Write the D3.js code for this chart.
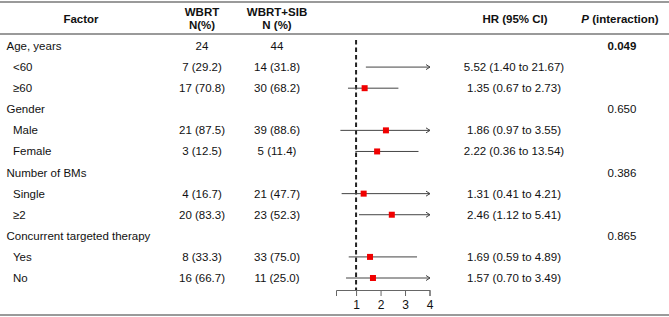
<!DOCTYPE html>
<html>
<head>
<meta charset="utf-8">
<script src="https://cdn.jsdelivr.net/npm/d3@7"></script>
<style>
  body { margin: 0; background: #fff; }
  svg text { font-family: "Liberation Sans", Arial, Helvetica, sans-serif; font-size: 11.5px; fill: #111; }
</style>
</head>
<body>
<div id="chart"></div>
<script>
// Table rows
const factors = ["Age, years", "<60", "≥60", "Gender", "Male", "Female",
  "Number of BMs", "Single", "≥2", "Concurrent targeted therapy", "Yes", "No"];
const isSubgroup = [false, true, true, false, true, true, false, true, true, false, true, true];
const wbrtN = ["24", "7 (29.2)", "17 (70.8)", "", "21 (87.5)", "3 (12.5)",
  "", "4 (16.7)", "20 (83.3)", "", "8 (33.3)", "16 (66.7)"];
const wbrtSibN = ["44", "14 (31.8)", "30 (68.2)", "", "39 (88.6)", "5 (11.4)",
  "", "21 (47.7)", "23 (52.3)", "", "33 (75.0)", "11 (25.0)"];
const hrText = ["", "5.52 (1.40 to 21.67)", "1.35 (0.67 to 2.73)", "", "1.86 (0.97 to 3.55)",
  "2.22 (0.36 to 13.54)", "", "1.31 (0.41 to 4.21)", "2.46 (1.12 to 5.41)", "",
  "1.69 (0.59 to 4.89)", "1.57 (0.70 to 3.49)"];
const pInteraction = ["0.049", "", "", "0.650", "", "", "0.386", "", "", "0.865", "", ""];

// Forest marks as drawn in the figure
const hrPoint = [null, 5.52, 1.35, null, 2.22, 1.86, null, 1.31, 2.46, null, 1.57, 1.69];
const hrLow = [null, 1.40, 0.67, null, 0.36, 0.97, null, 0.41, 1.12, null, 0.70, 0.59];
const hrHigh = [null, 21.67, 2.73, null, 13.54, 3.55, null, 4.21, 5.41, null, 3.49, 4.89];
const axisTicks = [1, 2, 3, 4];

const width = 669, height = 317;

const svg = d3.select("#chart")
  .append("svg")
  .attr("width", width)
  .attr("height", height);

// Scales
const y = d3.scalePoint()
  .domain(d3.range(factors.length))
  .range([46, 278]);

const x = d3.scaleLinear()
  .domain([0.18, 4])
  .range([336, 429.5]);

const xMax = x.domain()[1];

// Horizontal rules
const rules = [{ y: 2, w: 2 }, { y: 34, w: 2 }, { y: 315, w: 2 }];
svg.selectAll("line.rule")
  .data(rules)
  .enter().append("line")
  .attr("class", "rule")
  .attr("x1", 0).attr("x2", width)
  .attr("y1", d => d.y).attr("y2", d => d.y)
  .attr("stroke", "#9a9a9a")
  .attr("stroke-width", d => d.w);

// Header
const header = svg.append("g");
const headCells = [
  { x: 81, y: 19, t: "Factor" },
  { x: 202, y: 12, t: "WBRT" },
  { x: 202, y: 25, t: "N(%)" },
  { x: 277, y: 12, t: "WBRT+SIB" },
  { x: 277, y: 25, t: "N (%)" },
  { x: 515, y: 19, t: "HR (95% CI)" }
];
header.selectAll("text")
  .data(headCells)
  .enter().append("text")
  .attr("x", d => d.x).attr("y", d => d.y).attr("dy", "0.35em")
  .attr("text-anchor", "middle")
  .style("font-weight", "bold")
  .text(d => d.t);

const pHead = svg.append("text").attr("x", 620).attr("y", 19).attr("dy", "0.35em")
  .attr("text-anchor", "middle").style("font-weight", "bold");
pHead.append("tspan").style("font-style", "italic").text("P");
pHead.append("tspan").text(" (interaction)");

// Table body
const rows = svg.append("g")
  .selectAll("g")
  .data(d3.range(factors.length))
  .enter().append("g")
  .attr("transform", i => `translate(0,${y(i)})`);

rows.append("text")
  .attr("x", i => isSubgroup[i] ? 13 : 6.5)
  .attr("dy", "0.35em")
  .text(i => factors[i]);

rows.append("text")
  .attr("x", 202).attr("dy", "0.35em").attr("text-anchor", "middle")
  .text(i => wbrtN[i]);

rows.append("text")
  .attr("x", 277).attr("dy", "0.35em").attr("text-anchor", "middle")
  .text(i => wbrtSibN[i]);

rows.append("text")
  .attr("x", 514).attr("dy", "0.35em").attr("text-anchor", "middle")
  .text(i => hrText[i]);

rows.append("text")
  .attr("x", 622).attr("dy", "0.35em").attr("text-anchor", "middle")
  .style("font-weight", i => i === 0 ? "bold" : "normal")
  .text(i => pInteraction[i]);

// Reference line at HR = 1
svg.append("line")
  .attr("x1", x(1)).attr("x2", x(1))
  .attr("y1", 40).attr("y2", 290)
  .attr("stroke", "#222")
  .attr("stroke-width", 2)
  .attr("stroke-dasharray", "4.5,3");

// Confidence intervals
const ciRows = d3.range(factors.length).filter(i => hrLow[i] !== null);

const ci = svg.append("g")
  .selectAll("g")
  .data(ciRows)
  .enter().append("g")
  .attr("transform", i => `translate(0,${y(i)})`);

ci.append("line")
  .attr("x1", i => x(hrLow[i]))
  .attr("x2", i => hrHigh[i] > xMax ? x(xMax) + 0.5 : x(hrHigh[i]))
  .attr("stroke", "#444")
  .attr("stroke-width", 1);

// Arrow heads for intervals running past the axis
ci.filter(i => hrHigh[i] > xMax)
  .append("path")
  .attr("d", () => {
    const xe = x(xMax) + 0.5;
    return `M${xe - 4},-2.5L${xe},0L${xe - 4},2.5`;
  })
  .attr("fill", "none")
  .attr("stroke", "#444")
  .attr("stroke-width", 1);

// Point estimates
ci.filter(i => hrPoint[i] <= xMax)
  .append("rect")
  .attr("x", i => x(hrPoint[i]) - 3)
  .attr("y", -3)
  .attr("width", 6)
  .attr("height", 6)
  .attr("fill", "#f00000");

// Axis
const axis = svg.append("g")
  .attr("transform", "translate(0,290)")
  .call(d3.axisBottom(x)
    .tickValues(axisTicks)
    .tickFormat(d3.format("d"))
    .tickSizeOuter(0)
    .tickSize(6)
    .tickPadding(4));

axis.select(".domain").attr("stroke", "#666");
axis.selectAll(".tick line").attr("stroke", "#666");
axis.selectAll(".tick text")
  .style("font-family", "\"Liberation Sans\", Arial, sans-serif")
  .style("font-size", "12px")
  .attr("fill", "#111");
</script>
</body>
</html>
